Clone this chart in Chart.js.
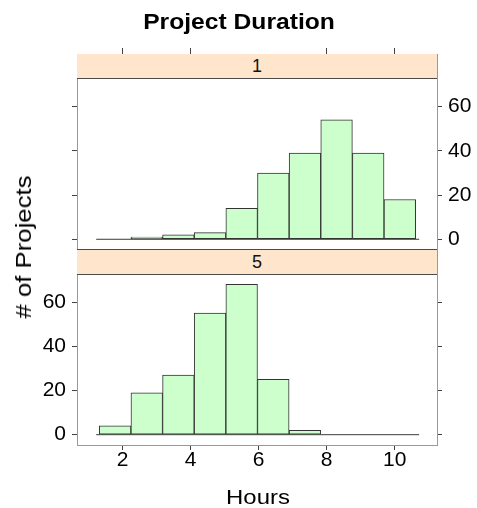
<!DOCTYPE html>
<html><head><meta charset="utf-8">
<script src="https://cdn.jsdelivr.net/npm/chart.js@4"></script>
<style>
html,body{margin:0;padding:0;background:#fff;}
#wrap{position:relative;width:477px;height:508px;overflow:hidden;font-family:"Liberation Sans",Arial,sans-serif;color:#000;}
canvas{position:absolute;left:0;}
.abs{position:absolute;white-space:nowrap;line-height:1;}
.strip{position:absolute;left:77px;width:360px;background:#ffe5cc;text-align:center;font-size:18px;line-height:24px;color:#111;}
</style></head><body>
<div id="wrap">
<canvas id="cA" width="477" height="250" style="top:0;width:477px;height:250px"></canvas>
<canvas id="cB" width="477" height="268" style="top:240px;width:477px;height:268px"></canvas>
<div class="abs" style="left:77px;top:54px;width:359px;height:391px;border-left:1px solid #999;border-right:1px solid #999;border-bottom:1px solid #999;"></div>
<div class="strip" id="stripA" style="top:54px;height:24px;border-bottom:1px solid #4a4a4a;"></div>
<div class="strip" id="stripB" style="top:249px;height:24px;border-top:1px solid #4a4a4a;border-bottom:1px solid #4a4a4a;"></div>
<div class="abs" id="title" style="left:239px;top:11px;font-size:22px;font-weight:bold;transform:translateX(-50%) scaleX(1.12);">Project Duration</div>
<div class="abs" id="xlab" style="left:258px;top:486px;font-size:21px;transform:translateX(-50%) scaleX(1.14);">Hours</div>
<div class="abs" id="ylab" style="left:24px;top:247px;font-size:22px;transform:translate(-50%,-50%) rotate(-90deg) scaleX(1.17);"># of Projects</div>
</div>
<script>
// ---- data ----
const panelLabels = ['1', '5'];
const binCenters = [1.777, 2.708, 3.638, 4.569, 5.500, 6.430, 7.361, 8.291, 9.222, 10.152];
const countsPanel1 = [0, 1, 2, 3, 14, 30, 39, 54, 39, 18];
const countsPanel5 = [4, 19, 27, 55, 68, 25, 2, 0, 0, 0];
const xTickValues = [2, 4, 6, 8, 10];
const topTickValues = [2, 4, 8, 10];
const yTickValues = [0, 20, 40, 60];
const baselineRange = [1.22, 10.72];
const xRange = [0.656, 11.245];
const yRangeA = [-4.4, 83.84];
const yRangeB = [-4.66, 84.03];

document.getElementById('stripA').textContent = panelLabels[0];
document.getElementById('stripB').textContent = panelLabels[1];

const FONT = '"Liberation Sans", Arial, sans-serif';
const tickFont = {family: FONT, size: 21, lineHeight: 1};

function setTicks(vals) { return s => { s.ticks = vals.map(v => ({value: v})); }; }

function datasets(counts) {
  return [
    {type: 'line', data: baselineRange.map(x => ({x: x, y: 0})), borderColor: '#3a3a3a', borderWidth: 1,
     pointRadius: 0, xAxisID: 'x', yAxisID: 'yL'},
    {type: 'bar', data: binCenters.map((x, i) => ({x: x, y: counts[i]})), backgroundColor: '#ccffcc',
     borderColor: '#333333', borderWidth: 1, borderSkipped: false, barPercentage: 1, categoryPercentage: 1,
     grouped: false, xAxisID: 'x', yAxisID: 'yL'}
  ];
}

const common = {
  responsive: false, animation: false, events: [],
  plugins: {legend: {display: false}, tooltip: {enabled: false}, title: {display: false}}
};

function yAxis(pos, range, showLabels, width) {
  return {
    type: 'linear', position: pos, min: range[0], max: range[1],
    ticks: {display: showLabels, font: tickFont, color: '#000', padding: 6},
    grid: {drawOnChartArea: false, tickLength: 5, color: '#444', offset: false},
    border: {display: false},
    afterBuildTicks: setTicks(yTickValues),
    afterFit: s => { s.width = width; s.paddingTop = 0; s.paddingBottom = 0; }
  };
}

new Chart(document.getElementById('cA'), {
  type: 'bar',
  data: {datasets: datasets(countsPanel1)},
  options: Object.assign({}, common, {
    layout: {padding: {left: 72, right: 0, top: 48, bottom: 1}},
    scales: {
      x: {type: 'linear', position: 'top', min: xRange[0], max: xRange[1], offset: false,
          ticks: {display: false}, grid: {drawOnChartArea: false, tickLength: 6, color: '#444', offset: false},
          border: {display: false}, afterBuildTicks: setTicks(topTickValues),
          afterFit: s => { s.height = 6; s.paddingLeft = 0; s.paddingRight = 0; }},
      yL: yAxis('left', yRangeA, false, 5),
      yR: yAxis('right', yRangeA, true, 40)
    }
  })
});

new Chart(document.getElementById('cB'), {
  type: 'bar',
  data: {datasets: datasets(countsPanel5)},
  options: Object.assign({}, common, {
    layout: {padding: {left: 27, right: 35, top: 9, bottom: 23}},
    scales: {
      x: {type: 'linear', position: 'bottom', min: xRange[0], max: xRange[1], offset: false,
          ticks: {display: true, font: tickFont, color: '#000', padding: 0, maxRotation: 0},
          grid: {drawOnChartArea: false, tickLength: 5, color: '#444', offset: false},
          border: {display: false}, afterBuildTicks: setTicks(xTickValues),
          afterFit: s => { s.height = 40; s.paddingLeft = 0; s.paddingRight = 0; }},
      yL: yAxis('left', yRangeB, true, 50),
      yR: yAxis('right', yRangeB, false, 5)
    }
  })
});
</script>
</body></html>
